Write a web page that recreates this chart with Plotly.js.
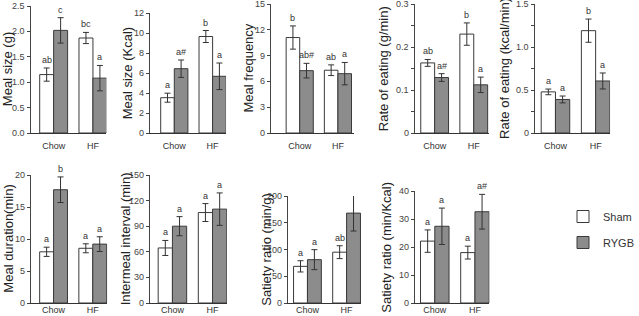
<!DOCTYPE html>
<html><head><meta charset="utf-8">
<script src="https://cdn.plot.ly/plotly-3.0.1.min.js"></script>
<style>html,body{margin:0;padding:0;background:#fff}#chart{width:639px;height:316px}</style>
</head><body><div id="chart"></div>
<script>
const categories = ['Chow', 'HF'];
const seriesNames = ['Sham', 'RYGB'];

// Meal size (g)
const mealSizeG_sham = [1.15, 1.87];
const mealSizeG_shamErr = [0.13, 0.11];
const mealSizeG_rygb = [2.02, 1.08];
const mealSizeG_rygbErr = [0.25, 0.25];
const mealSizeG_letters = ['ab', 'bc', 'c', 'a'];

// Meal size (Kcal)
const mealSizeK_sham = [3.53, 9.65];
const mealSizeK_shamErr = [0.45, 0.6];
const mealSizeK_rygb = [6.43, 5.67];
const mealSizeK_rygbErr = [0.87, 1.33];
const mealSizeK_letters = ['a', 'b', 'a#', 'a'];

// Meal frequency
const mealFreq_sham = [11.1, 7.3];
const mealFreq_shamErr = [1.35, 0.62];
const mealFreq_rygb = [7.25, 6.9];
const mealFreq_rygbErr = [0.85, 1.3];
const mealFreq_letters = ['b', 'ab', 'ab#', 'a'];

// Rate of eating (g/min)
const rateG_sham = [0.163, 0.230];
const rateG_shamErr = [0.008, 0.026];
const rateG_rygb = [0.129, 0.112];
const rateG_rygbErr = [0.009, 0.018];
const rateG_letters = ['ab', 'b', 'a#', 'a'];

// Rate of eating (kcal/min)
const rateK_sham = [0.478, 1.19];
const rateK_shamErr = [0.033, 0.135];
const rateK_rygb = [0.39, 0.605];
const rateK_rygbErr = [0.04, 0.093];
const rateK_letters = ['a', 'b', 'a', 'a'];

// Meal duration (min)
const duration_sham = [8.0, 8.55];
const duration_shamErr = [0.72, 0.7];
const duration_rygb = [17.7, 9.2];
const duration_rygbErr = [2.0, 1.15];
const duration_letters = ['a', 'a', 'b', 'a'];

// Intermeal interval (min)
const imi_sham = [64.5, 106];
const imi_shamErr = [8.8, 10.5];
const imi_rygb = [90, 110];
const imi_rygbErr = [11.2, 19];
const imi_letters = ['a', 'a', 'a', 'a'];

// Satiety ratio (min/g)
const satG_sham = [68.5, 95];
const satG_shamErr = [10.5, 12];
const satG_rygb = [81, 168];
const satG_rygbErr = [18.7, 33.5];
const satG_letters = ['a', 'ab', 'a', 'b#'];

// Satiety ratio (min/Kcal)
const satK_sham = [22.1, 18.0];
const satK_shamErr = [4.0, 2.3];
const satK_rygb = [27.4, 32.6];
const satK_rygbErr = [6.5, 6.2];
const satK_letters = ['a', 'a', 'a', 'a#'];

const yTitles = ['Meal size (g)', 'Meal size (Kcal)', 'Meal frequency', 'Rate of eating (g/min)',
  'Rate of eating (kcal/min)', 'Meal duration(min)', 'Intermeal interval (min)',
  'Satiety ratio (min/g)', 'Satiety ratio (min/Kcal)'];
const yMax = [2.5, 12, 15, 0.3, 1.5, 20, 150, 200, 40];
const yStep = [0.5, 2, 3, 0.1, 0.5, 5, 30, 50, 10];

const data = [
  [mealSizeG_sham, mealSizeG_shamErr, mealSizeG_rygb, mealSizeG_rygbErr, mealSizeG_letters],
  [mealSizeK_sham, mealSizeK_shamErr, mealSizeK_rygb, mealSizeK_rygbErr, mealSizeK_letters],
  [mealFreq_sham, mealFreq_shamErr, mealFreq_rygb, mealFreq_rygbErr, mealFreq_letters],
  [rateG_sham, rateG_shamErr, rateG_rygb, rateG_rygbErr, rateG_letters],
  [rateK_sham, rateK_shamErr, rateK_rygb, rateK_rygbErr, rateK_letters],
  [duration_sham, duration_shamErr, duration_rygb, duration_rygbErr, duration_letters],
  [imi_sham, imi_shamErr, imi_rygb, imi_rygbErr, imi_letters],
  [satG_sham, satG_shamErr, satG_rygb, satG_rygbErr, satG_letters],
  [satK_sham, satK_shamErr, satK_rygb, satK_rygbErr, satK_letters]
];

// layout geometry in pixels: [left, right, top, bottom, xmin, xmax, title offset]
const W = 639, H = 316;
const boxes = [
  [32, 111, 6, 133, -0.585, 1.34, -23],
  [157, 236, 13, 133, -0.625, 1.35, -23],
  [283, 370, 4, 133, -0.75, 1.43, -23],
  [433, 511, 4, 133, -0.51, 1.40, -31],
  [559, 637, 4, 133, -0.50, 1.36, -31],
  [32, 112, 175, 303, -0.585, 1.37, -23],
  [157, 237, 175, 303, -0.55, 1.36, -25],
  [301, 377, 196, 303, -0.49, 1.37, -22],
  [433, 511, 191, 303, -0.50, 1.36, -29]
];

const FONT = 'Liberation Sans, Arial, sans-serif';
const bargap = 0.29;
const half = (1 - bargap) / 4;
const fills = ['#ffffff', '#8c8c8c'];
const traces = [];
const annotations = [];
const layout = {
  width: W, height: H,
  margin: {l: 0, r: 0, t: 0, b: 0},
  paper_bgcolor: '#fff', plot_bgcolor: 'rgba(0,0,0,0)',
  barmode: 'group', bargap: bargap, bargroupgap: 0,
  showlegend: true,
  legend: {x: 588 / W, y: 1 - 202 / H, xanchor: 'left', yanchor: 'top',
    font: {family: FONT, size: 11, color: '#333'}, bgcolor: 'rgba(0,0,0,0)',
    traceorder: 'grouped', tracegroupgap: 7, itemwidth: 30},
  font: {family: FONT, color: '#333'}
};

data.forEach((d, i) => {
  const k = i + 1;
  const xa = 'x' + (k === 1 ? '' : k), ya = 'y' + (k === 1 ? '' : k);
  const b = boxes[i];
  for (let s = 0; s < 2; s++) {
    traces.push({
      type: 'bar', x: categories, y: d[s * 2], name: seriesNames[s],
      xaxis: xa, yaxis: ya,
      legendgroup: seriesNames[s], showlegend: i === 0,
      marker: {color: fills[s], line: {color: '#3a3a3a', width: 1}},
      error_y: {type: 'data', array: d[s * 2 + 1], visible: true, color: '#333', thickness: 1, width: 3},
      hoverinfo: 'skip'
    });
  }
  const lets = d[4];
  for (let s = 0; s < 2; s++) {
    for (let c = 0; c < 2; c++) {
      annotations.push({
        xref: xa, yref: ya,
        x: c + (s === 0 ? -half : half),
        y: d[s * 2][c] + d[s * 2 + 1][c],
        text: lets[s * 2 + c], showarrow: false,
        yanchor: 'bottom', xanchor: 'center', yshift: 1,
        font: {family: FONT, size: 9, color: '#333'}
      });
    }
  }
  const axKeyX = 'xaxis' + (k === 1 ? '' : k), axKeyY = 'yaxis' + (k === 1 ? '' : k);
  layout[axKeyX] = {
    domain: [b[0] / W, b[1] / W], anchor: ya,
    type: 'category', range: [b[4], b[5]],
    showline: true, linecolor: '#333', linewidth: 1,
    ticks: '', showgrid: false, zeroline: false, ticklabelstandoff: i < 5 ? 4 : -2,
    ticklabeloverflow: 'allow',
    tickfont: {family: FONT, size: 9, color: '#333'}, fixedrange: true
  };
  const tv = [];
  for (let v = 0; v <= yMax[i] + 1e-9; v += yStep[i]) tv.push(+v.toFixed(4));
  let tt;
  if (i === 0) tt = tv.map(v => v.toFixed(1));
  else if (i === 3 || i === 4) tt = tv.map(v => v === 0 ? '0' : v.toFixed(1));
  else tt = tv.map(v => String(v));
  const ycfg = {
    domain: [1 - b[3] / H, 1 - b[2] / H], anchor: xa,
    range: [0, yMax[i]], showline: true, linecolor: '#444', linewidth: 1,
    ticks: 'outside', ticklen: 3, tickcolor: '#444', tickwidth: 1,
    tickmode: 'array', tickvals: tv, ticktext: tt, showticklabels: false,
    showgrid: false, zeroline: false,
    fixedrange: true
  };
  if (i === 3 || i === 4) {
    ycfg.minor = {dtick: yStep[i] / 2, tick0: 0, ticks: 'outside', ticklen: 3, tickcolor: '#444', showgrid: false};
  }
  layout[axKeyY] = ycfg;
  // y tick labels, placed on the y axis scale
  tv.forEach((v, j) => {
    annotations.push({
      xref: xa + ' domain', yref: ya, x: 0, y: v, xshift: -4,
      xanchor: 'right', yanchor: 'middle', text: tt[j], showarrow: false,
      font: {family: FONT, size: 9, color: '#444'}
    });
  });
  // y axis title
  annotations.push({
    xref: xa + ' domain', yref: ya + ' domain', x: 0, y: 0.5, xshift: b[6],
    xanchor: 'center', yanchor: 'middle', textangle: -90, text: yTitles[i], showarrow: false,
    font: {family: FONT, size: 13, color: '#222'}
  });
});
layout.annotations = annotations;

Plotly.newPlot('chart', traces, layout, {staticPlot: true, displayModeBar: false});
</script>
</body></html>
